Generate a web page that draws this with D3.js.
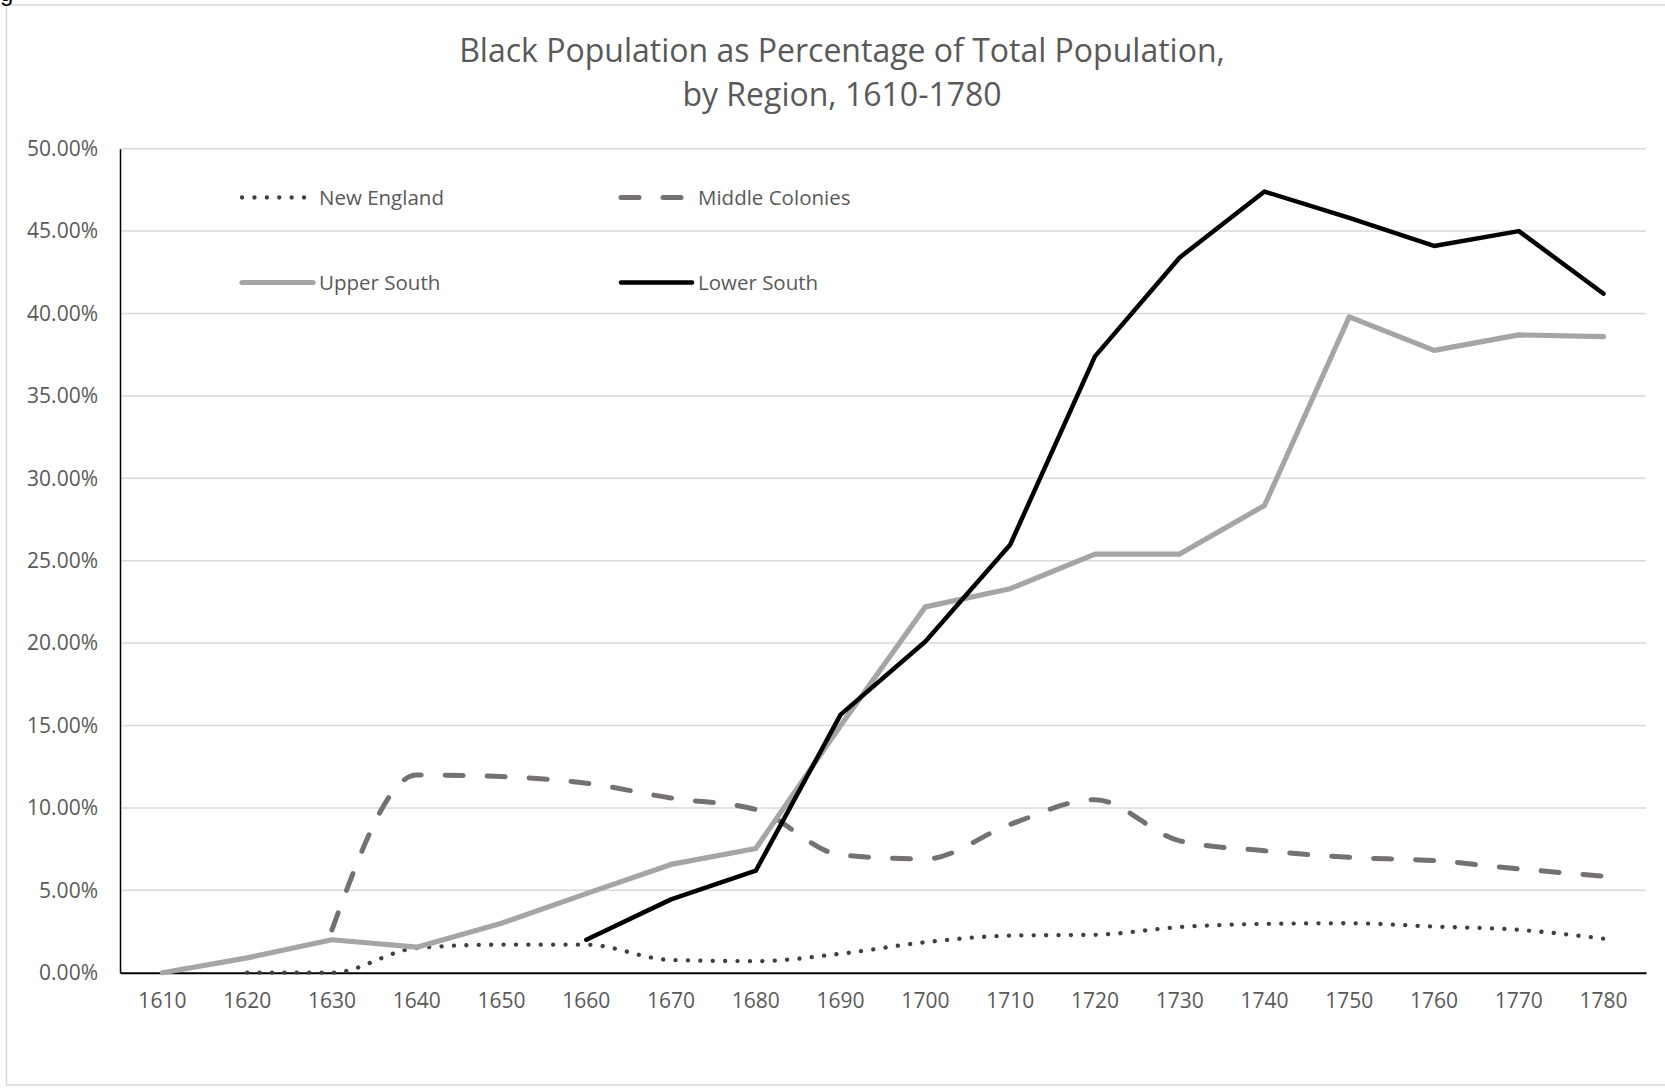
<!DOCTYPE html>
<html>
<head>
<meta charset="utf-8">
<script src="https://cdn.jsdelivr.net/npm/d3@7"></script>
<style>
  body { margin: 0; background: #fff; }
  svg { display: block; font-family: "Open Sans", sans-serif; }
</style>
</head>
<body>
<svg id="svg1" width="1665" height="1089"></svg>
<script>
// data (fractions of total population)
var years = [1610, 1620, 1630, 1640, 1650, 1660, 1670, 1680, 1690, 1700,
             1710, 1720, 1730, 1740, 1750, 1760, 1770, 1780];
var newEngland =     [null, 0, 0, 0.015, 0.017, 0.017, 0.0077, 0.007, 0.0115, 0.0185,
                      0.0225, 0.023, 0.0277, 0.0296, 0.030, 0.028, 0.026, 0.0206];
var middleColonies = [null, null, 0.026, 0.120, 0.119, 0.115, 0.106, 0.099, 0.0715, 0.069,
                      0.090, 0.105, 0.080, 0.074, 0.070, 0.068, 0.063, 0.0586];
var upperSouth =     [0, 0.009, 0.020, 0.0155, 0.030, 0.048, 0.0657, 0.0754, 0.150, 0.222,
                      0.233, 0.254, 0.254, 0.2835, 0.398, 0.3776, 0.387, 0.386];
var lowerSouth =     [null, null, null, null, null, 0.020, 0.0445, 0.0619, 0.1566, 0.201,
                      0.2597, 0.374, 0.434, 0.474, 0.458, 0.441, 0.450, 0.412];
var yTicks = [0, 0.05, 0.10, 0.15, 0.20, 0.25, 0.30, 0.35, 0.40, 0.45, 0.50];
var titleLines = ["Black Population as Percentage of Total Population,", "by Region, 1610-1780"];

var series = [
  {name: "New England", values: newEngland, color: "#404040", width: 4.3, dash: "0.1 12.3", curve: d3.curveMonotoneX},
  {name: "Middle Colonies", values: middleColonies, color: "#767171", width: 5, dash: "18 24", curve: d3.curveMonotoneX},
  {name: "Upper South", values: upperSouth, color: "#a5a5a5", width: 5.2, dash: null, curve: d3.curveLinear},
  {name: "Lower South", values: lowerSouth, color: "#000000", width: 4.5, dash: null, curve: d3.curveLinear}
];

var svg = d3.select("#svg1");
var plotLeft = 120, plotRight = 1646, plotTop = 148.7, plotBottom = 972.7;

// outer frame
svg.append("rect")
    .attr("x", 6.5).attr("y", 5)
    .attr("width", 1700).attr("height", 1080)
    .attr("fill", "none")
    .attr("stroke", "#d9d9d9")
    .attr("stroke-width", 1.5);

// piece of the caption cut off at the top
svg.append("text")
    .attr("x", 0).attr("y", 1)
    .attr("font-family", "Liberation Sans, sans-serif")
    .attr("font-size", 24)
    .attr("fill", "#000")
    .text("g");

var x = d3.scaleBand().domain(years).range([plotLeft, plotRight]);
var y = d3.scaleLinear().domain([0, 0.5]).range([plotBottom, plotTop]);
function cx(yr) { return x(yr) + x.bandwidth() / 2; }

// title
svg.append("g").selectAll("text")
    .data(titleLines)
  .enter().append("text")
    .attr("x", 842)
    .attr("y", function(d, i) { return 62 + i * 44; })
    .attr("text-anchor", "middle")
    .attr("font-size", 32)
    .attr("fill", "#595959")
    .text(function(d) { return d; });

// gridlines
svg.append("g").selectAll("line")
    .data(yTicks.slice(1))
  .enter().append("line")
    .attr("x1", plotLeft).attr("x2", plotRight)
    .attr("y1", function(d) { return y(d); })
    .attr("y2", function(d) { return y(d); })
    .attr("stroke", "#d9d9d9")
    .attr("stroke-width", 1.5);

// y axis
var yAxis = d3.axisLeft(y).tickValues(yTicks).tickSize(0).tickPadding(22)
    .tickFormat(function(d) { return (d * 100).toFixed(2) + "%"; });
var gy = svg.append("g").attr("transform", "translate(" + plotLeft + ",0)").call(yAxis);
gy.select(".domain").attr("stroke", "#000").attr("stroke-width", 1.5);
gy.selectAll("text").attr("font-size", 21).attr("fill", "#595959")
    .attr("font-family", "Open Sans, sans-serif");

// x axis
var xAxis = d3.axisBottom(x).tickSize(0).tickPadding(20);
var gx = svg.append("g").attr("transform", "translate(0," + plotBottom + ")").call(xAxis);
gx.select(".domain").attr("stroke", "#000").attr("stroke-width", 2);
gx.selectAll("text").attr("font-size", 21).attr("fill", "#595959")
    .attr("font-family", "Open Sans, sans-serif");

// lines
series.forEach(function(s) {
  var pts = [];
  years.forEach(function(yr, i) {
    if (s.values[i] !== null) pts.push([yr, s.values[i]]);
  });
  var line = d3.line()
      .curve(s.curve)
      .x(function(d) { return cx(d[0]); })
      .y(function(d) { return y(d[1]); });
  svg.append("path")
      .datum(pts)
      .attr("d", line)
      .attr("fill", "none")
      .attr("stroke", s.color)
      .attr("stroke-width", s.width)
      .attr("stroke-linecap", "round")
      .attr("stroke-linejoin", "round")
      .attr("stroke-dasharray", s.dash);
});

// legend
var legendPos = [[242, 197.5], [621, 197.5], [242, 282.5], [621, 282.5]];
var legend = svg.append("g").selectAll("g")
    .data(series)
  .enter().append("g")
    .attr("transform", function(d, i) { return "translate(" + legendPos[i][0] + "," + legendPos[i][1] + ")"; });
legend.append("line")
    .attr("x1", 0).attr("x2", 71)
    .attr("stroke", function(d) { return d.color; })
    .attr("stroke-width", function(d) { return d.width; })
    .attr("stroke-linecap", "round")
    .attr("stroke-dasharray", function(d) { return d.dash; });
legend.append("text")
    .attr("x", 77)
    .attr("dy", "0.35em")
    .attr("font-size", 20.5)
    .attr("fill", "#595959")
    .text(function(d) { return d.name; });
</script>
</body>
</html>
